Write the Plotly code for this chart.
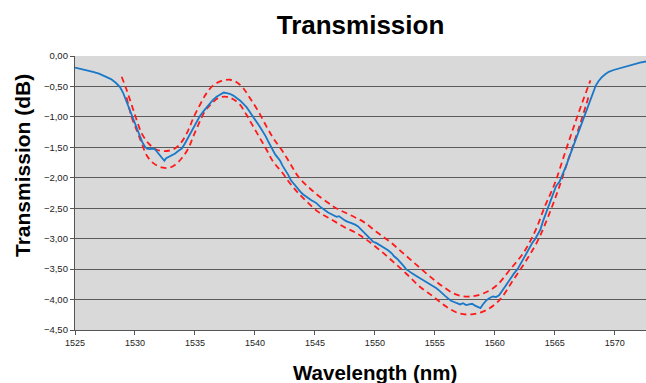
import plotly.graph_objects as go

# Measured transmission (blue)
wl_meas = [1525.0, 1525.5, 1526.0, 1526.5, 1527.0, 1527.5, 1528.0, 1528.4, 1528.75, 1529.0,
           1529.2, 1529.4, 1529.6, 1529.8, 1530.0, 1530.2, 1530.42, 1530.6, 1530.83, 1531.0,
           1531.25, 1531.5, 1531.7, 1531.9, 1532.1, 1532.3, 1532.45, 1532.6, 1532.9, 1533.1,
           1533.35, 1533.6, 1533.9, 1534.15, 1534.4, 1534.6, 1534.85, 1535.1, 1535.4, 1535.7,
           1536.0, 1536.25, 1536.5, 1536.8, 1537.1, 1537.4, 1537.65, 1537.9, 1538.2, 1538.45,
           1538.75, 1539.0, 1539.3, 1539.55, 1539.8, 1540.05, 1540.3, 1540.5, 1540.7, 1540.9,
           1541.1, 1541.3, 1541.5, 1541.7, 1541.9, 1542.1, 1542.3, 1542.5, 1542.65, 1542.8,
           1543.0, 1543.2, 1543.4, 1543.6, 1543.8, 1544.0, 1544.2, 1544.45, 1544.7, 1544.9,
           1545.15, 1545.4, 1545.7, 1545.9, 1546.1, 1546.3, 1546.55, 1546.8, 1547.0, 1547.25,
           1547.5, 1547.7, 1547.9, 1548.1, 1548.35, 1548.6, 1548.8, 1549.0, 1549.2, 1549.4,
           1549.6, 1549.85, 1550.1, 1550.35, 1550.6, 1550.85, 1551.1, 1551.4, 1551.6, 1551.85,
           1552.1, 1552.35, 1552.6, 1552.85, 1553.1, 1553.35, 1553.6, 1553.85, 1554.1, 1554.35,
           1554.6, 1554.85, 1555.1, 1555.35, 1555.6, 1555.85, 1556.1, 1556.35, 1556.6, 1556.85,
           1557.1, 1557.35, 1557.6, 1557.85, 1558.1, 1558.35, 1558.6, 1558.8, 1559.0, 1559.3,
           1559.6, 1559.85, 1560.1, 1560.35, 1560.6, 1560.85, 1561.1, 1561.35, 1561.6, 1561.9,
           1562.15, 1562.4, 1562.65, 1562.9, 1563.15, 1563.35, 1563.6, 1563.8, 1564.0, 1564.3,
           1564.55, 1564.85, 1565.1, 1565.4, 1565.65, 1565.95, 1566.2, 1566.5, 1566.75, 1566.95,
           1567.15, 1567.35, 1567.55, 1567.8, 1568.0, 1568.2, 1568.4, 1568.65, 1568.9, 1569.2,
           1569.5, 1569.9, 1570.4, 1571.0, 1571.6, 1572.1, 1572.6]
tr_meas = [-0.19, -0.21, -0.23, -0.26, -0.29, -0.33, -0.38, -0.44, -0.51, -0.60,
           -0.70, -0.80, -0.91, -1.01, -1.10, -1.21, -1.32, -1.41, -1.49, -1.52,
           -1.53, -1.52, -1.54, -1.59, -1.63, -1.67, -1.72, -1.68, -1.65, -1.63,
           -1.60, -1.56, -1.52, -1.44, -1.35, -1.27, -1.17, -1.09, -0.99, -0.91,
           -0.84, -0.78, -0.72, -0.67, -0.63, -0.60, -0.61, -0.62, -0.65, -0.68,
           -0.73, -0.78, -0.84, -0.91, -0.99, -1.06, -1.13, -1.19, -1.25, -1.32,
           -1.40, -1.48, -1.56, -1.62, -1.67, -1.72, -1.80, -1.86, -1.90, -1.96,
           -2.04, -2.09, -2.14, -2.18, -2.23, -2.27, -2.30, -2.34, -2.37, -2.39,
           -2.42, -2.47, -2.52, -2.54, -2.57, -2.59, -2.61, -2.64, -2.63, -2.67,
           -2.70, -2.72, -2.74, -2.75, -2.77, -2.80, -2.84, -2.88, -2.91, -2.95,
           -3.00, -3.05, -3.07, -3.10, -3.12, -3.16, -3.19, -3.24, -3.29, -3.33,
           -3.38, -3.44, -3.50, -3.54, -3.57, -3.60, -3.63, -3.66, -3.68, -3.71,
           -3.75, -3.78, -3.81, -3.85, -3.90, -3.94, -3.98, -4.02, -4.04, -4.06,
           -4.08, -4.06, -4.09, -4.08, -4.07, -4.10, -4.13, -4.14, -4.08, -4.01,
           -3.97, -3.95, -3.96, -3.93, -3.86, -3.79, -3.71, -3.63, -3.57, -3.50,
           -3.41, -3.32, -3.24, -3.15, -3.06, -3.01, -2.93, -2.85, -2.72, -2.56,
           -2.40, -2.24, -2.14, -2.06, -1.95, -1.80, -1.66, -1.50, -1.36, -1.24,
           -1.13, -1.02, -0.91, -0.79, -0.68, -0.58, -0.49, -0.41, -0.35, -0.30,
           -0.26, -0.23, -0.20, -0.17, -0.14, -0.11, -0.09]

# Upper bound (red dashed)
wl_upper = [1528.89, 1529.31, 1529.72, 1530.14, 1530.56, 1531.11, 1531.81, 1532.64, 1533.33, 1533.89,
            1534.44, 1534.86, 1535.42, 1535.97, 1536.53, 1537.22, 1537.92, 1538.47, 1539.03, 1539.58,
            1540.28, 1540.97, 1541.53, 1542.22, 1542.92, 1543.61, 1544.72, 1546.53, 1547.92, 1549.03,
            1550.14, 1551.25, 1552.36, 1553.47, 1554.58, 1555.69, 1556.81, 1557.92, 1559.03, 1560.14,
            1561.25, 1562.36, 1563.33, 1564.17, 1565.0, 1565.83, 1566.53, 1567.22, 1567.97]
tr_upper = [-0.34, -0.56, -0.80, -1.05, -1.27, -1.43, -1.54, -1.56, -1.52, -1.41,
            -1.22, -1.02, -0.80, -0.61, -0.48, -0.41, -0.39, -0.43, -0.53, -0.69,
            -0.91, -1.16, -1.35, -1.54, -1.76, -1.98, -2.20, -2.47, -2.61, -2.72,
            -2.89, -3.05, -3.24, -3.43, -3.62, -3.79, -3.92, -3.95, -3.90, -3.77,
            -3.51, -3.24, -2.89, -2.47, -2.09, -1.60, -1.19, -0.80, -0.40]

# Lower bound (red dashed)
wl_lower = [1529.3, 1529.72, 1530.14, 1530.56, 1530.97, 1531.53, 1532.22, 1532.78, 1533.33, 1533.89,
            1534.44, 1534.86, 1535.28, 1535.83, 1536.39, 1536.94, 1537.64, 1538.19, 1538.75, 1539.31,
            1539.86, 1540.42, 1540.97, 1541.53, 1542.22, 1542.92, 1543.61, 1544.31, 1545.28, 1546.25,
            1547.36, 1548.47, 1549.31, 1550.42, 1551.53, 1552.64, 1553.75, 1554.86, 1555.97, 1557.08,
            1558.19, 1559.31, 1560.42, 1561.53, 1562.64, 1563.61, 1564.44, 1565.28, 1565.97, 1566.67,
            1567.22, 1567.64, 1567.9]
tr_lower = [-0.68, -1.00, -1.22, -1.43, -1.63, -1.76, -1.83, -1.84, -1.79, -1.68,
            -1.52, -1.32, -1.13, -0.91, -0.78, -0.69, -0.67, -0.71, -0.80, -0.97,
            -1.16, -1.35, -1.54, -1.74, -1.90, -2.09, -2.25, -2.39, -2.56, -2.67,
            -2.80, -2.91, -3.02, -3.19, -3.38, -3.58, -3.79, -3.95, -4.12, -4.23,
            -4.24, -4.17, -4.00, -3.68, -3.35, -3.02, -2.64, -2.20, -1.79, -1.38,
            -1.05, -0.78, -0.62]

x_ticks = [1525, 1530, 1535, 1540, 1545, 1550, 1555, 1560, 1565, 1570]
y_ticks = [0.0, -0.5, -1.0, -1.5, -2.0, -2.5, -3.0, -3.5, -4.0, -4.5]
y_grid = [-0.5, -1.0, -1.5, -2.0, -2.5, -3.0, -3.5, -4.0]

FONT = "Arial, Liberation Sans, sans-serif"

fig = go.Figure()
fig.add_trace(go.Scatter(x=wl_upper, y=tr_upper, mode="lines", line_shape="spline",
                         line=dict(color="#ff1a1a", width=1.8, dash="6px,4px"),
                         showlegend=False, hoverinfo="skip"))
fig.add_trace(go.Scatter(x=wl_lower, y=tr_lower, mode="lines", line_shape="spline",
                         line=dict(color="#ff1a1a", width=1.8, dash="6px,4px"),
                         showlegend=False, hoverinfo="skip"))
fig.add_trace(go.Scatter(x=wl_meas, y=tr_meas, mode="lines",
                         line=dict(color="#1a78c8", width=1.8),
                         showlegend=False))

fig.update_layout(
    width=646, height=383,
    margin=dict(l=75, r=0, t=56, b=53),
    paper_bgcolor="white",
    plot_bgcolor="#d9d9d9",
    separators=",.",
    font=dict(family=FONT, color="#222222"),
    title=dict(text="<b>Transmission</b>", x=0.5, xref="paper", y=1 - 25 / 383,
               yref="container", yanchor="middle", xanchor="center",
               font=dict(size=26, color="black", family=FONT)),
)
fig.update_xaxes(
    range=[1525, 1572.6], tickvals=x_ticks, ticktext=[str(v) for v in x_ticks],
    showgrid=False, zeroline=False,
    showline=True, linecolor="#555555", linewidth=1.3,
    ticks="outside", ticklen=4, tickcolor="#555555",
    tickfont=dict(size=9, color="#222222"),
)
fig.update_yaxes(
    range=[-4.5, 0], tickvals=y_ticks, tickformat=".2f",
    showgrid=False, zeroline=False,
    showline=True, linecolor="#555555", linewidth=1.3,
    ticks="outside", ticklen=4, tickcolor="#555555",
    tickfont=dict(size=9.5, color="#222222"),
    minor=dict(tickvals=y_grid, showgrid=True, gridcolor="#5a5a5a", gridwidth=1.4, ticks=""),
)

fig.add_annotation(text="<b>Transmission (dB)</b>", xref="paper", yref="paper",
                   x=(22 - 75) / 571, y=(330 - 166) / 274, textangle=-90,
                   showarrow=False, xanchor="center", yanchor="middle",
                   font=dict(size=21, color="black", family=FONT))
fig.add_annotation(text="<b>Wavelength (nm)</b>", xref="paper", yref="paper",
                   x=(374.6 - 75) / 571, y=(330 - 372) / 274,
                   showarrow=False, xanchor="center", yanchor="middle",
                   font=dict(size=20.5, color="black", family=FONT))

fig.write_html("out.html", config={"displayModeBar": False},
               post_script="document.body.style.margin='0';document.body.style.overflow='hidden';")
